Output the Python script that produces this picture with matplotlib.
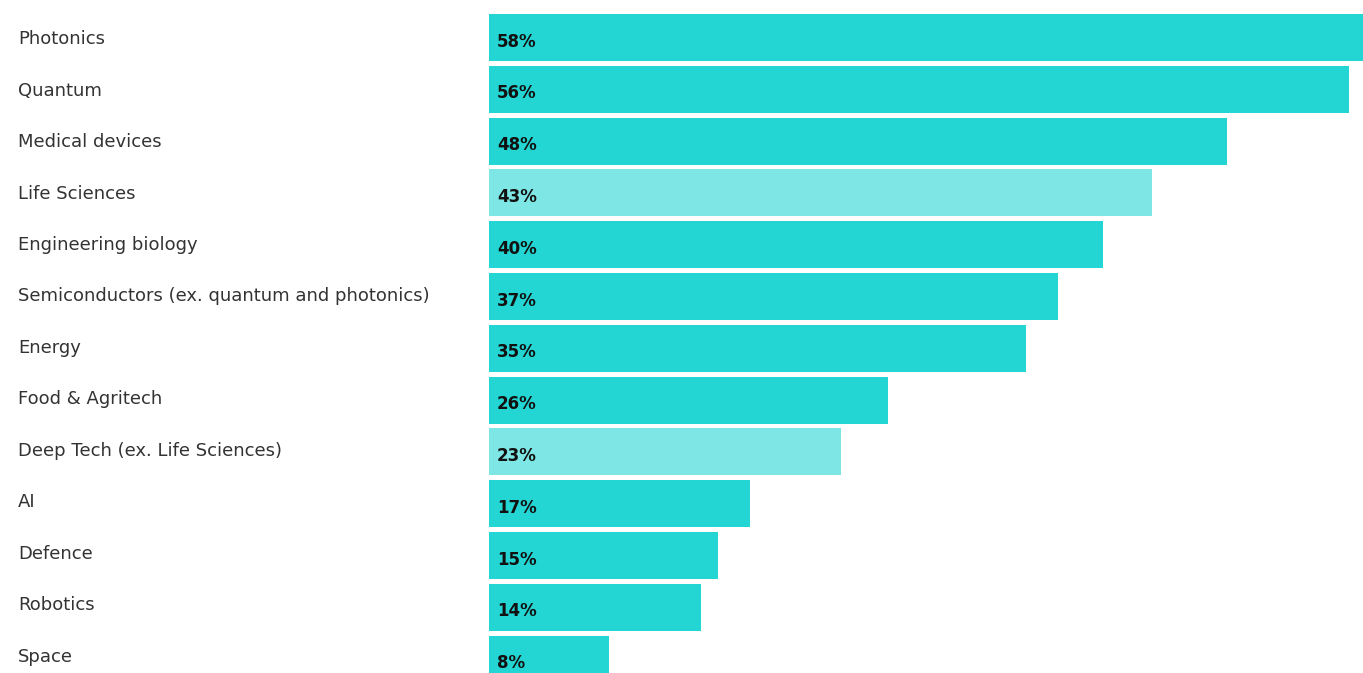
import matplotlib
matplotlib.use("Agg")
import matplotlib.pyplot as plt
from matplotlib.transforms import blended_transform_factory

plt.rcParams['font.family'] = ['DejaVu Sans']

categories = ["Photonics", "Quantum", "Medical devices", "Life Sciences",
              "Engineering biology", "Semiconductors (ex. quantum and photonics)",
              "Energy", "Food & Agritech", "Deep Tech (ex. Life Sciences)", "AI",
              "Defence", "Robotics", "Space"]
values = [58.0, 56.0, 48.1, 43.2, 40.0, 37.1, 35.0, 26.0, 22.9, 17.0, 14.9, 13.8, 7.8]
highlight = [False, False, False, True, False, False, False, False, True,
             False, False, False, False]

W, H = 1363, 673
fig = plt.figure(figsize=(W / 100, H / 100), dpi=100)
x0 = 489
ax = fig.add_axes([x0 / W, 0, 1 - x0 / W, 1])

px_per_unit = 15.35
pitch = 51.8
ax.set_xlim(0, (W - x0) / px_per_unit)
ax.set_ylim((H - 37.5) / pitch, -37.5 / pitch)
ax.axis("off")

dark = "#24D6D3"
light = "#7EE6E4"
colors = [light if h else dark for h in highlight]
ypos = list(range(len(categories)))
ax.barh(ypos, values, height=47 / pitch, color=colors, left=0)

tr = blended_transform_factory(fig.transFigure, ax.transData)
for i, (c, v) in enumerate(zip(categories, values)):
    ax.text(18 / W, i * 0.994 + 0.03, c, transform=tr, ha="left", va="center",
            fontsize=13, color="#333333")
    ax.text(8 / px_per_unit, i + 0.08, f"{v:.0f}%", ha="left", va="center",
            fontsize=12, fontweight="bold", color="#111111")

fig.savefig("out.png", dpi=100)
